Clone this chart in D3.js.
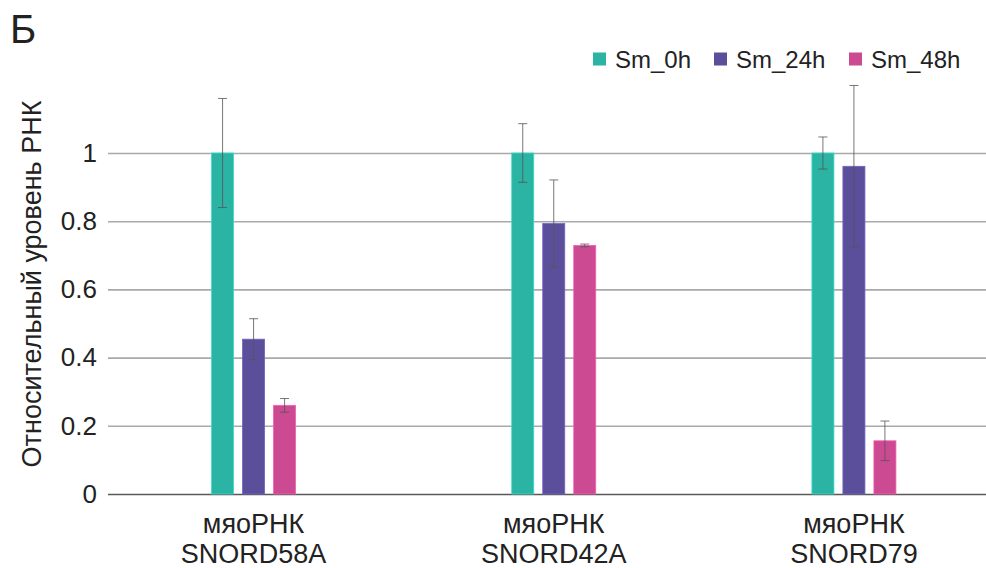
<!DOCTYPE html>
<html>
<head>
<meta charset="utf-8">
<script src="https://cdn.jsdelivr.net/npm/d3@7"></script>
<style>
  html, body { margin: 0; padding: 0; background: #fff; }
  svg { display: block; font-family: "Liberation Sans", Arial, sans-serif; }
</style>
</head>
<body>
<svg id="chart" width="986" height="568"></svg>
<script>
// Categories (two-line labels) and series
const categories = ["мяоРНК SNORD58A", "мяоРНК SNORD42A", "мяоРНК SNORD79"];
const categoryLines = [["мяоРНК", "SNORD58A"], ["мяоРНК", "SNORD42A"], ["мяоРНК", "SNORD79"]];
const seriesNames = ["Sm_0h", "Sm_24h", "Sm_48h"];
const seriesColors = ["#2bb3a4", "#5b4f9c", "#cb4a92"];

// Mean values per series (one entry per category)
const sm0h  = [1.0, 1.0, 1.0];
const sm24h = [0.454, 0.793, 0.961];
const sm48h = [0.26, 0.729, 0.156];

// Error (± deviation) per series
const sm0hErr  = [0.16, 0.086, 0.047];
const sm24hErr = [0.06, 0.128, 0.237];
const sm48hErr = [0.02, 0.004, 0.058];

const yTicks = [0, 0.2, 0.4, 0.6, 0.8, 1];
const yTickLabels = ["0", "0.2", "0.4", "0.6", "0.8", "1"];

const values = [sm0h, sm24h, sm48h];
const errors = [sm0hErr, sm24hErr, sm48hErr];

const svg = d3.select("#chart");

const plotLeft = 108, plotRight = 986;
const y = d3.scaleLinear().domain([0, 1]).range([494, 153]);

const x0 = d3.scaleBand().domain(categories).range([103.5, 1004]).paddingInner(0).paddingOuter(0);
const x1 = d3.scaleBand().domain(seriesNames).range([-42, 42]).paddingInner(0.29);

// Grid lines / y axis
const yAxis = d3.axisLeft(y)
  .tickValues(yTicks)
  .tickFormat((d, i) => yTickLabels[i])
  .tickSize(-(plotRight - plotLeft))
  .tickPadding(11);

const gy = svg.append("g")
  .attr("transform", `translate(${plotLeft},0)`)
  .call(yAxis);
gy.select(".domain").remove();
gy.selectAll(".tick line")
  .attr("stroke", d => d === 0 ? "#595959" : "#a9a9a9")
  .attr("stroke-width", 1.6);
gy.selectAll(".tick text")
  .attr("font-size", 26)
  .attr("fill", "#222")
  .attr("font-family", "Liberation Sans, Arial, sans-serif");

// Bars
const groups = svg.append("g").selectAll("g")
  .data(categories)
  .join("g")
  .attr("transform", d => `translate(${x0(d) + x0.bandwidth() / 2},0)`);

groups.each(function(cat, ci) {
  const g = d3.select(this);
  seriesNames.forEach((s, si) => {
    const v = values[si][ci];
    const e = errors[si][ci];
    const bx = x1(s);
    const bw = x1.bandwidth();
    g.append("rect")
      .attr("x", bx)
      .attr("y", y(v))
      .attr("width", bw)
      .attr("height", y(0) - y(v))
      .attr("fill", seriesColors[si])
      .attr("stroke", d3.color(seriesColors[si]).brighter(0.6))
      .attr("stroke-width", 0.8);
    const cx = bx + bw / 2;
    const eg = g.append("g").attr("stroke", "#555").attr("stroke-width", 1).attr("stroke-opacity", 0.8);
    eg.append("line").attr("x1", cx).attr("x2", cx).attr("y1", y(v + e)).attr("y2", y(v - e));
    eg.append("line").attr("x1", cx - 4.5).attr("x2", cx + 4.5).attr("y1", y(v + e)).attr("y2", y(v + e));
    eg.append("line").attr("x1", cx - 4.5).attr("x2", cx + 4.5).attr("y1", y(v - e)).attr("y2", y(v - e));
  });
});

// Category labels
const labels = svg.append("g").selectAll("text")
  .data(categories)
  .join("text")
  .attr("x", d => x0(d) + x0.bandwidth() / 2)
  .attr("text-anchor", "middle")
  .attr("font-size", 27)
  .attr("fill", "#222");
labels.each(function(d, i) {
  const t = d3.select(this);
  categoryLines[i].forEach((line, li) => {
    t.append("tspan").attr("x", x0(d) + x0.bandwidth() / 2).attr("y", 533 + li * 30).text(line);
  });
});

// Y axis title
svg.append("text")
  .attr("transform", "translate(41,284) rotate(-90)")
  .attr("text-anchor", "middle")
  .attr("font-size", 27)
  .attr("fill", "#222")
  .text("Относительный уровень РНК");

// Panel letter
svg.append("text")
  .attr("x", 10)
  .attr("y", 43)
  .attr("font-size", 40)
  .attr("fill", "#222")
  .text("Б");

// Legend
const legendX = [593, 714, 849];
const legend = svg.append("g").selectAll("g")
  .data(seriesNames)
  .join("g")
  .attr("transform", (d, i) => `translate(${legendX[i]},52.5)`);
legend.append("rect")
  .attr("width", 13).attr("height", 13)
  .attr("fill", (d, i) => seriesColors[i]);
legend.append("text")
  .attr("x", 22).attr("y", 15)
  .attr("font-size", 24)
  .attr("fill", "#222")
  .text(d => d);
</script>
</body>
</html>
